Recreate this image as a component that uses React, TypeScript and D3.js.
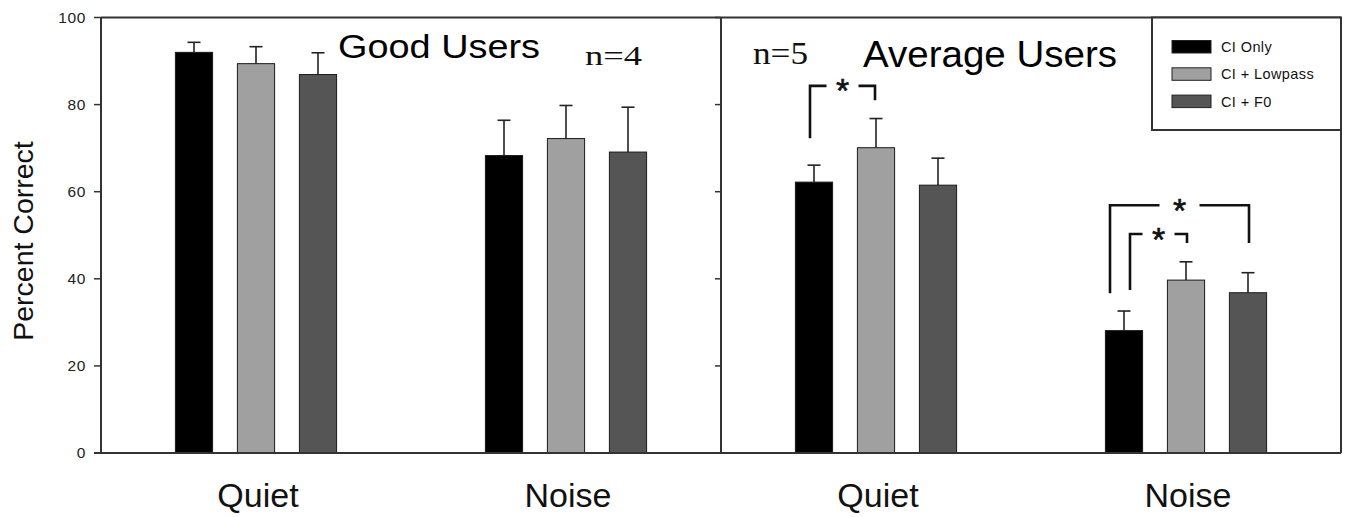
import React from "react";
import * as d3 from "d3";

const panels = ["Good Users", "Average Users"];
const panelN = ["n=4", "n=5"];
const conditions = ["Quiet", "Noise"];
const series = ["CI Only", "CI + Lowpass", "CI + F0"];
const seriesColors = ["#000000", "#a0a0a0", "#555555"];

const goodQuiet = [92.0, 89.4, 86.9];
const goodQuietErr = [2.3, 3.9, 5.0];
const goodNoise = [68.3, 72.2, 69.1];
const goodNoiseErr = [8.1, 7.6, 10.3];
const avgQuiet = [62.2, 70.1, 61.5];
const avgQuietErr = [3.9, 6.7, 6.2];
const avgNoise = [28.1, 39.7, 36.8];
const avgNoiseErr = [4.5, 4.2, 4.6];

const yTicks = [0, 20, 40, 60, 80, 100];

// significance brackets: panel, condition, from series, to series, top, left foot, right foot (percent)
const brackets = [
  { panel: 1, cond: 0, from: 0, to: 1, top: 84.3, leftFoot: 72.3, rightFoot: 81.0, dl: -4, dr: -1 },
  { panel: 1, cond: 1, from: 0, to: 2, top: 56.9, leftFoot: 36.7, rightFoot: 48.2, dl: -14, dr: 1 },
  { panel: 1, cond: 1, from: 0, to: 1, top: 50.3, leftFoot: 37.4, rightFoot: 48.2, dl: 6, dr: 1 },
];

const data = [
  [
    { v: goodQuiet, e: goodQuietErr },
    { v: goodNoise, e: goodNoiseErr },
  ],
  [
    { v: avgQuiet, e: avgQuietErr },
    { v: avgNoise, e: avgNoiseErr },
  ],
];

const W = 1346;
const H = 517;
const left = 101;
const right = 1341;
const top = 17.5;
const bottom = 453;

const sans = "'Liberation Sans', Arial, Helvetica, sans-serif";
const serif = "'Liberation Serif', 'Times New Roman', serif";

export default function App() {
  const y = d3.scaleLinear().domain([0, 100]).range([bottom, top]);
  const xPanel = d3.scaleBand<number>().domain([0, 1]).range([left, right]);
  const xCond = d3.scaleBand<number>().domain([0, 1]).range([0, xPanel.bandwidth()]);
  const xSer = d3
    .scaleBand<number>()
    .domain([0, 1, 2])
    .range([-93, 93])
    .paddingInner(0.4)
    .paddingOuter(0.2);

  const center = (p: number, c: number) => (xPanel(p) as number) + (xCond(c) as number) + xCond.bandwidth() / 2;
  const barCenter = (p: number, c: number, s: number) =>
    center(p, c) + (xSer(s) as number) + xSer.bandwidth() / 2;

  const stroke = "#333";

  const legendX = 1152;
  const legendBottom = 130;

  return (
    <svg width={W} height={H} style={{ position: "absolute", left: 0, top: 0, background: "#fff" }}>
      <rect x={0} y={0} width={W} height={H} fill="#fff" />
      {data.map((pd, p) =>
        pd.map((cd, c) =>
          cd.v.map((v, s) => {
            const x0 = center(p, c) + (xSer(s) as number);
            const cx = barCenter(p, c, s);
            const yTop = y(v);
            const yErr = y(v + cd.e[s]);
            return (
              <g key={`${p}-${c}-${s}`}>
                <line x1={cx} x2={cx} y1={yTop} y2={yErr} stroke="#222" strokeWidth={1.6} />
                <line x1={cx - 6.5} x2={cx + 6.5} y1={yErr} y2={yErr} stroke="#222" strokeWidth={1.6} />
                <rect
                  x={x0}
                  y={yTop}
                  width={xSer.bandwidth()}
                  height={bottom - yTop}
                  fill={seriesColors[s]}
                  stroke="#1a1a1a"
                  strokeWidth={1}
                />
              </g>
            );
          })
        )
      )}

      <line x1={left} x2={right} y1={top} y2={top} stroke={stroke} strokeWidth={2} />
      <line x1={right} x2={right} y1={top} y2={bottom} stroke={stroke} strokeWidth={2} />
      <line x1={left - 7} x2={right} y1={bottom} y2={bottom} stroke={stroke} strokeWidth={2} />
      <line x1={left} x2={left} y1={top} y2={bottom} stroke={stroke} strokeWidth={2} />
      {[1].map((p) => {
        const xd = xPanel(p) as number;
        return (
          <g key={"div" + p}>
            <line x1={xd} x2={xd} y1={top} y2={bottom} stroke={stroke} strokeWidth={2} />
            {yTicks.map((t) => (
              <line key={t} x1={xd - 6} x2={xd} y1={y(t)} y2={y(t)} stroke={stroke} strokeWidth={1.5} />
            ))}
          </g>
        );
      })}

      {yTicks.map((t) => (
        <g key={"yt" + t}>
          <line x1={left - 7} x2={left} y1={y(t)} y2={y(t)} stroke={stroke} strokeWidth={1.5} />
          <text
            x={86}
            y={y(t)}
            dy="0.35em"
            textAnchor="end"
            fontFamily={sans}
            fontSize={15.5}
            letterSpacing={0.6}
            fill="#222"
          >
            {t}
          </text>
        </g>
      ))}

      <text
        transform={`translate(33,241) rotate(-90)`}
        textAnchor="middle"
        fontFamily={sans}
        fontSize={28.5}
        fill="#111"
      >
        Percent Correct
      </text>

      {[0, 1].map((p) =>
        conditions.map((cn, c) => (
          <text
            key={`cl${p}${c}`}
            x={center(p, c) + 2}
            y={507}
            textAnchor="middle"
            fontFamily={sans}
            fontSize={34}
            fill="#111"
          >
            {cn}
          </text>
        ))
      )}

      <text x={338} y={58} fontFamily={sans} fontSize={34} textLength={202} lengthAdjust="spacingAndGlyphs" fill="#000">
        {panels[0]}
      </text>
      <text x={585} y={65} fontFamily={serif} fontSize={28} textLength={57} lengthAdjust="spacingAndGlyphs" fill="#111">
        {panelN[0]}
      </text>
      <text x={863} y={67} fontFamily={sans} fontSize={37} textLength={254} lengthAdjust="spacingAndGlyphs" fill="#000">
        {panels[1]}
      </text>
      <text x={753} y={64} fontFamily={serif} fontSize={31} textLength={55} lengthAdjust="spacingAndGlyphs" fill="#111">
        {panelN[1]}
      </text>

      {brackets.map((b, i) => {
        const xl = barCenter(b.panel, b.cond, b.from) + b.dl;
        const xr = barCenter(b.panel, b.cond, b.to) + b.dr;
        const yt = y(b.top);
        const mid = (xl + xr) / 2;
        const gap = b.to - b.from > 1 ? 20 : 16;
        const fs = 34;
        return (
          <g key={"br" + i} stroke="#111" strokeWidth={2.6} fill="none">
            <polyline points={`${xl},${y(b.leftFoot)} ${xl},${yt} ${mid - gap},${yt}`} />
            <polyline points={`${mid + gap},${yt} ${xr},${yt} ${xr},${y(b.rightFoot)}`} />
            <text
              x={mid}
              y={yt + 2 + 0.43 * fs}
              textAnchor="middle"
              fontFamily={sans}
              fontSize={fs}
              fill="#111"
              stroke="#111"
              strokeWidth={0.6}
            >
              *
            </text>
          </g>
        );
      })}

      <rect x={legendX} y={top} width={right - legendX} height={legendBottom - top} fill="#fff" stroke={stroke} strokeWidth={2} />
      {series.map((s, i) => (
        <g key={"lg" + i}>
          <rect x={1172} y={40.5 + i * 27.3} width={39} height={12.5} fill={seriesColors[i]} stroke="#222" strokeWidth={1} />
          <text x={1221} y={52 + i * 27.3} fontFamily={sans} fontSize={14.5} letterSpacing={0.4} fill="#111">
            {s}
          </text>
        </g>
      ))}
    </svg>
  );
}
